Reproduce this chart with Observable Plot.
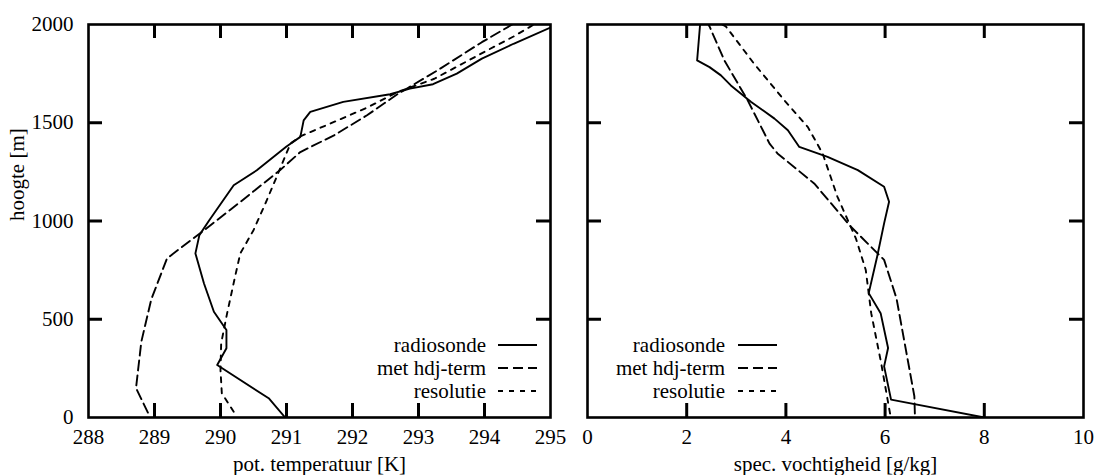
<!DOCTYPE html>
<html>
<head>
<meta charset="utf-8">
<script src="https://cdn.jsdelivr.net/npm/d3@7"></script>
<script src="https://cdn.jsdelivr.net/npm/@observablehq/plot@0.6"></script>
<style>
  body { margin: 0; background: white; }
  #wrap { position: relative; width: 1094px; height: 475px; background: white; overflow: hidden; }
</style>
</head>
<body>
<div id="wrap"></div>
<script>
// ---------- data ----------
const seriesNames = ["radiosonde", "met hdj-term", "resolutie"];

const tempTicks = [288, 289, 290, 291, 292, 293, 294, 295];
const humTicks = [0, 2, 4, 6, 8, 10];
const heightTicks = [0, 500, 1000, 1500, 2000];

// Left panel: potential temperature [K] vs height [m]
const tempRadiosondeH = [0, 98, 267, 352, 445, 538, 682, 835, 928, 1004, 1182, 1258, 1379, 1428, 1512, 1555, 1606, 1645, 1674, 1696, 1750, 1826, 1902, 1985];
const tempRadiosonde  = [290.98, 290.73, 289.95, 290.09, 290.09, 289.90, 289.75, 289.62, 289.68, 289.83, 290.20, 290.55, 291.00, 291.21, 291.26, 291.36, 291.86, 292.57, 292.87, 293.22, 293.58, 293.96, 294.44, 295.0];

const tempHdjH = [25, 150, 385, 600, 810, 945, 1097, 1258, 1351, 1436, 1538, 1645, 1767, 1910, 2000];
const tempHdj  = [288.90, 288.72, 288.80, 288.95, 289.19, 289.72, 290.30, 290.90, 291.21, 291.72, 292.22, 292.68, 293.29, 293.96, 294.42];

const tempResH = [29, 123, 241, 377, 530, 716, 835, 953, 1089, 1224, 1394, 1431, 1504, 1577, 1656, 1724, 1868, 1939, 2000];
const tempRes  = [290.20, 290.02, 290.00, 290.01, 290.10, 290.22, 290.30, 290.50, 290.68, 290.85, 291.06, 291.21, 291.72, 292.22, 292.68, 293.24, 294.04, 294.44, 294.75];

// Right panel: specific humidity [g/kg] vs height [m]
const humRadiosondeH = [0, 91, 260, 354, 531, 633, 819, 988, 1098, 1174, 1259, 1326, 1377, 1462, 1521, 1606, 1690, 1741, 1783, 1817, 2000];
const humRadiosonde  = [8.0, 6.12, 5.98, 6.06, 5.91, 5.67, 5.84, 5.98, 6.08, 5.98, 5.45, 4.84, 4.27, 4.04, 3.77, 3.30, 2.89, 2.69, 2.46, 2.21, 2.27];

const humHdjH = [20, 108, 606, 802, 971, 1191, 1344, 1394, 1614, 1817, 1990, 2000];
const humHdj  = [6.6, 6.59, 6.23, 5.98, 5.31, 4.57, 3.83, 3.67, 3.23, 2.76, 2.46, 2.44];

const humResH = [20, 91, 278, 531, 751, 912, 1123, 1344, 1479, 1614, 1800, 1990, 2000];
const humRes  = [6.1, 6.05, 5.92, 5.72, 5.61, 5.41, 5.04, 4.74, 4.44, 3.97, 3.36, 2.79, 2.72];

// ---------- helpers ----------
const zipPts = (xs, hs) => xs.map((v, i) => ({v, h: hs[i]}));
const dashes = [null, "10,5", "5,6"];
const FONT = "Liberation Serif";
const FS = 21;

function panel({width, marginLeft, marginRight, xDomain, xTicks, series, xLabel, yLabels, legend}) {
  const height = 475, marginTop = 24, marginBottom = 58;
  const innerW = width - marginLeft - marginRight;
  const innerH = height - marginTop - marginBottom;
  const T = 14;
  const inner = xTicks.slice(1, -1);
  const innerY = heightTicks.slice(1, -1);
  const marks = [
    Plot.axisX(xTicks, {tickSize: 0, tickPadding: 12, label: null, fontSize: FS, tickFormat: d => String(d)}),
    yLabels
      ? Plot.axisY(heightTicks, {tickSize: 0, tickPadding: 15, label: null, fontSize: FS, tickFormat: d => String(d)})
      : Plot.axisY([], {tickSize: 0, label: null}),
    // inward ticks on all four sides
    Plot.tickX(inner, {x: d => d, insetTop: innerH - T, strokeWidth: 3}),
    Plot.tickX(inner, {x: d => d, insetBottom: innerH - T, strokeWidth: 3}),
    Plot.tickY(innerY, {y: d => d, insetRight: innerW - T, strokeWidth: 3}),
    Plot.tickY(innerY, {y: d => d, insetLeft: innerW - T, strokeWidth: 3}),
    ...series.map((s, i) => Plot.line(s, {x: "v", y: "h", stroke: "black", strokeWidth: 1.9, strokeDasharray: dashes[i], clip: true})),
    Plot.frame({stroke: "black", strokeWidth: 2.6}),
    Plot.text([xLabel], {frameAnchor: "bottom", dy: 47, fontSize: FS, lineAnchor: "middle"})
  ];
  if (yLabels) {
    marks.push(Plot.text(["hoogte [m]"], {frameAnchor: "left", dx: -71, rotate: -90, fontSize: FS, lineAnchor: "middle"}));
  }
  const svg = Plot.plot({
    width, height, marginLeft, marginRight, marginTop, marginBottom,
    x: {domain: xDomain},
    y: {domain: [0, 2000]},
    style: {fontFamily: FONT, fontSize: FS + "px", color: "black", background: "white", overflow: "visible"},
    marks
  });
  // legend (inside frame)
  const g = d3.select(svg).append("g").attr("font-family", FONT).attr("font-size", FS);
  const rows = [345, 368, 391];
  seriesNames.forEach((name, i) => {
    g.append("text").attr("x", legend.textEnd).attr("y", rows[i]).attr("dy", "0.32em")
      .attr("text-anchor", "end").attr("fill", "black").text(name);
    g.append("line").attr("x1", legend.l1).attr("x2", legend.l2).attr("y1", rows[i]).attr("y2", rows[i])
      .attr("stroke", "black").attr("stroke-width", 1.9)
      .attr("stroke-dasharray", dashes[i]);
  });
  return svg;
}

const left = panel({
  width: 570, marginLeft: 88, marginRight: 20,
  xDomain: [288, 295], xTicks: tempTicks,
  series: [zipPts(tempRadiosonde, tempRadiosondeH), zipPts(tempHdj, tempHdjH), zipPts(tempRes, tempResH)],
  xLabel: "pot. temperatuur [K]", yLabels: true,
  legend: {textEnd: 486, l1: 498, l2: 537}
});
const right = panel({
  width: 524, marginLeft: 17, marginRight: 11,
  xDomain: [0, 10], xTicks: humTicks,
  series: [zipPts(humRadiosonde, humRadiosondeH), zipPts(humHdj, humHdjH), zipPts(humRes, humResH)],
  xLabel: "spec. vochtigheid [g/kg]", yLabels: false,
  legend: {textEnd: 155, l1: 168, l2: 207}
});
const wrap = document.getElementById("wrap");
left.style.position = "absolute"; left.style.left = "0px"; left.style.top = "0px";
right.style.position = "absolute"; right.style.left = "570px"; right.style.top = "0px";
wrap.appendChild(left);
wrap.appendChild(right);
</script>
</body>
</html>
